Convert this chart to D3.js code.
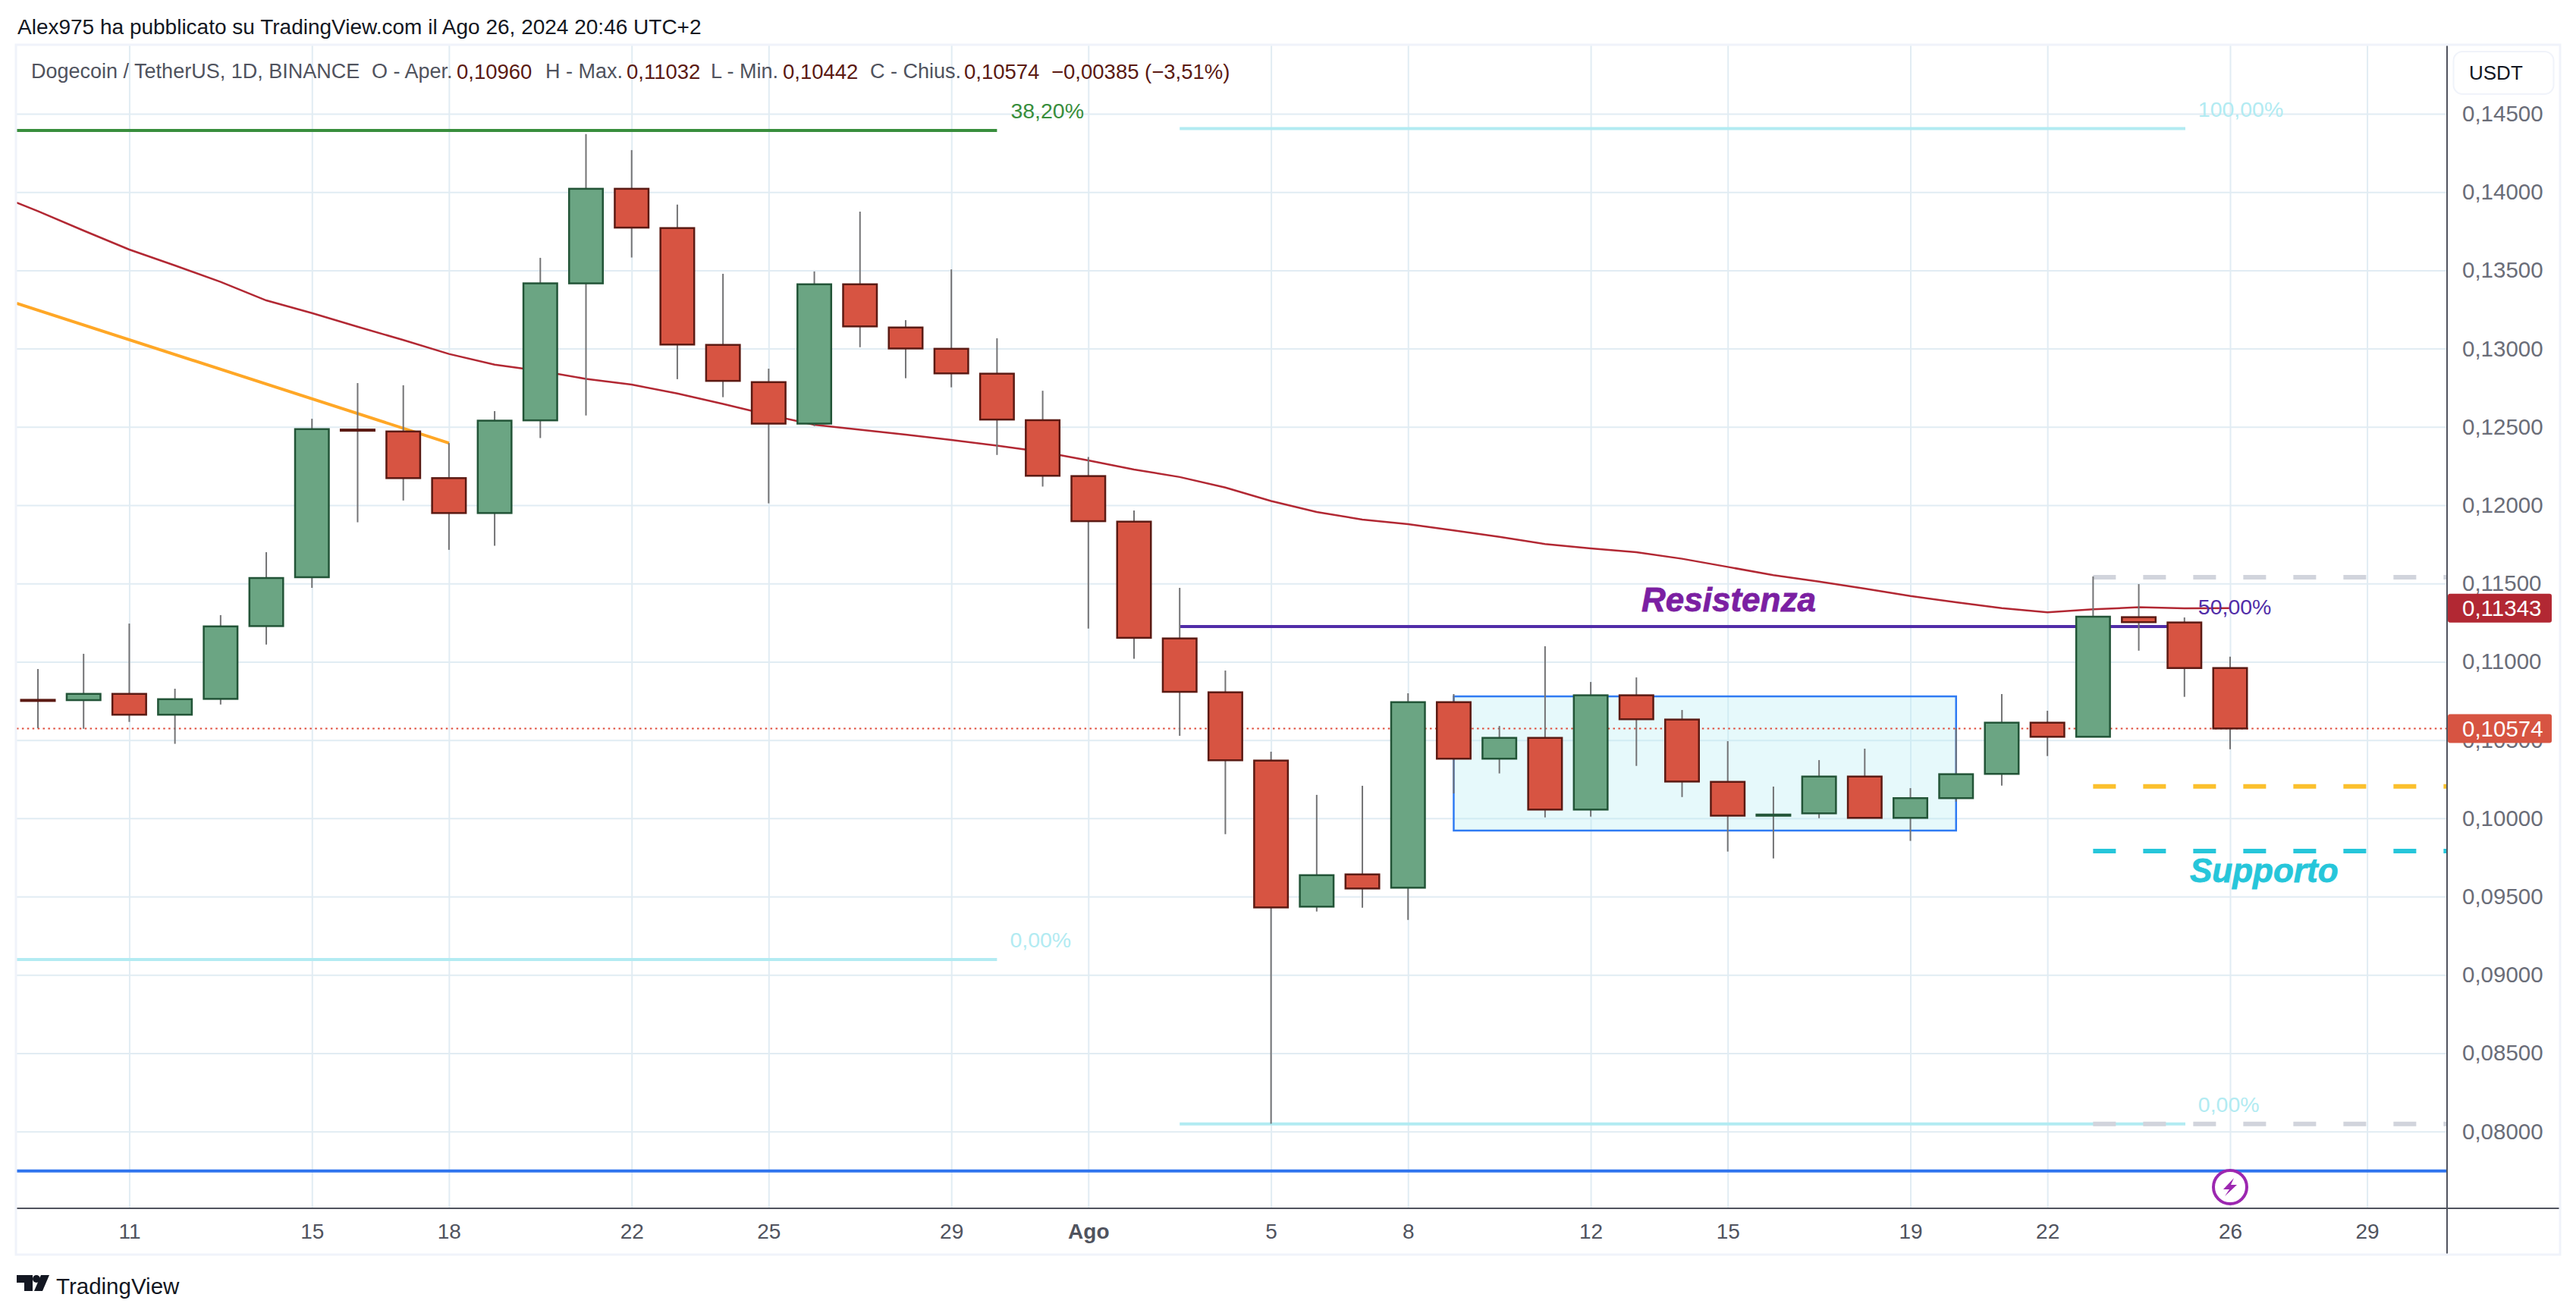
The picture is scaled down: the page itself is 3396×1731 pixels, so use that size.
<!DOCTYPE html>
<html><head><meta charset="utf-8">
<script src="https://cdn.jsdelivr.net/npm/d3@7/dist/d3.min.js"></script>
<style>html,body{margin:0;padding:0;background:#fff}svg{display:block}text{font-family:"Liberation Sans",Arial,sans-serif}</style>
</head><body><svg id="c" width="3396" height="1731"></svg>
<script>
// ---- data: daily candles, 9 Jul 2024 (index 0) to 26 Aug 2024 (index 48) ----
const opens=[.10757,.10755,.10795,.10662,.10763,.11228,.11540,.12483,.12471,.12173,.11950,.12542,.13417,.14021,.13770,.13024,.12786,.12521,.13411,.13135,.12999,.12840,.12543,.12186,.11895,.11149,.10805,.10369,.09436,.09642,.09557,.10742,.10381,.10514,.10056,.10786,.10631,.10233,.10022,.10032,.10267,.10003,.10129,.10284,.10611,.10521,.11285,.11251,.10960];
const highs=[.10954,.11051,.11244,.10828,.11298,.11700,.12552,.12780,.12766,.12397,.12601,.13580,.14370,.14268,.13920,.13478,.12872,.13493,.13875,.13182,.13506,.13066,.12731,.12308,.11966,.11472,.10944,.10426,.10150,.10208,.10799,.10794,.10590,.11099,.10871,.10900,.10692,.10493,.10203,.10372,.10445,.10193,.10576,.10794,.10687,.11545,.11496,.11283,.11032];
const lows=[.10576,.10572,.10616,.10476,.10727,.11110,.11472,.11891,.12030,.11715,.11741,.12429,.12573,.13582,.12805,.12690,.12012,.12505,.13009,.12811,.12753,.12321,.12119,.11212,.11019,.10527,.09899,.08049,.09405,.09429,.09352,.10159,.10287,.10006,.10011,.10335,.10136,.09788,.09744,.10001,.10003,.09856,.10107,.10209,.10398,.10521,.11071,.10776,.10442];
const closes=[.10755,.10795,.10662,.10761,.11226,.11535,.12486,.12481,.12173,.11950,.12540,.13417,.14021,.13773,.13026,.12794,.12521,.13411,.13142,.13001,.12842,.12547,.12188,.11898,.11153,.10808,.10371,.09431,.09637,.09552,.10742,.10381,.10514,.10056,.10786,.10633,.10235,.10017,.10024,.10267,.10003,.10129,.10282,.10611,.10521,.11288,.11253,.10960,.10574];
const maStart=.13932; // value at the left edge of the pane
const maValues=[.13878,.13754,.13633,.13531,.13426,.13308,.13227,.13140,.13055,.12966,.12898,.12858,.12807,.12770,.12714,.12647,.12577,.12514,.12482,.12451,.12417,.12380,.12341,.12286,.12228,.12180,.12113,.12027,.11957,.11908,.11879,.11839,.11798,.11752,.11724,.11700,.11658,.11606,.11553,.11512,.11467,.11420,.11380,.11343,.11316,.11335,.11348,.11341,.11343];
const priceTicks=[.145,.14,.135,.13,.125,.12,.115,.11,.105,.10,.095,.09,.085,.08];
const dateTickIdx=[2,6,9,13,16,20,23,27,30,34,37,41,44,48,51];
const dateTickLabels=["11","15","18","22","25","29","Ago","5","8","12","15","19","22","26","29"];
const trendOrange=[.13289,.12397];
const fib382=.14393, fibLeft0=.09098, fib100=.14405, fibRight0=.08048, fib50=.11225;
const dashGreyTop=.11540, dashGreyBottom=.08048, dashYellow=.10204, dashCyan=.09791;
const blueLevel=.07748, boxTop=.10779, boxBottom=.09922;
const lastClose=.10574, lastMa=.11343;
const legendParts=[
 ["Dogecoin / TetherUS, 1D, BINANCE",0],["O - Aper.",0],["0,10960",1],["H - Max.",0],["0,11032",1],
 ["L - Min.",0],["0,10442",1],["C - Chius.",0],["0,10574",1],["−0,00385 (−3,51%)",1]];

// ---- layout ----
const L={left:22,right:3375,axisX:3226,top:59,axisY:1593,bottom:1654};
const legendX=[41,490,602,719,826,937,1032,1147,1271,1386];
const x=d3.scaleLinear().domain([0,48]).range([50,2940]);
const y=d3.scaleLinear().domain([.145,.08]).range([150,1491.7]);
const fmt=d=>d.toFixed(5).replace(".",",");
const leftI=x.invert(L.left), rightI=x.invert(L.axisX);
const svg=d3.select("#c");
const GRID="#e1ecf3", AX="#50535e", CUP="#6ba583", CDN="#d75442", BUP="#225437", BDN="#5b1a13";

svg.append("defs").append("clipPath").attr("id","pane").append("rect")
 .attr("x",L.left).attr("y",L.top).attr("width",L.axisX-L.left).attr("height",L.axisY-L.top);

// grid
const gy=svg.append("g").attr("transform",`translate(${L.left},0)`)
 .call(d3.axisRight(y).tickValues(priceTicks).tickSize(L.axisX-L.left).tickFormat(""));
gy.select(".domain").remove(); gy.selectAll("line").attr("stroke",GRID).attr("stroke-width",2);
const gx=svg.append("g").attr("transform",`translate(0,${L.axisY})`)
 .call(d3.axisTop(x).tickValues(dateTickIdx).tickSize(L.axisY-L.top).tickFormat(""));
gx.select(".domain").remove(); gx.selectAll("line").attr("stroke",GRID).attr("stroke-width",2);

const pane=svg.append("g").attr("clip-path","url(#pane)");
// box
pane.append("rect").attr("x",x(31)).attr("y",y(boxTop)).attr("width",x(42)-x(31)).attr("height",y(boxBottom)-y(boxTop))
 .attr("fill","rgba(178,235,242,.32)").attr("stroke","#2f7bf3").attr("stroke-width",2.5);
// levels
function hl(p,a,b,c,w,dash){const l=pane.append("line").attr("x1",x(a)).attr("x2",x(b)).attr("y1",y(p)).attr("y2",y(p))
 .attr("stroke",c).attr("stroke-width",w); if(dash)l.attr("stroke-dasharray",dash); return l;}
hl(fib382,leftI,21,"#388e3c",4);
hl(fibLeft0,leftI,21,"#b2ebf2",4);
hl(fib100,25,47.02,"#b2ebf2",4);
hl(fibRight0,25,47.02,"#b2ebf2",4);
hl(fib50,25,47.02,"#512da8",4);
hl(blueLevel,leftI,rightI,"#2f74ee",4);
hl(dashGreyTop,45,rightI,"#d1d4dc",6,"30 36");
hl(dashGreyBottom,45,rightI,"#d1d4dc",6,"30 36");
hl(dashYellow,45,rightI,"#fbc02d",6,"30 36");
hl(dashCyan,45,rightI,"#26c6da",6,"30 36");
// orange trend
pane.append("line").attr("x1",x(leftI)).attr("y1",y(trendOrange[0])).attr("x2",x(9)).attr("y2",y(trendOrange[1]))
 .attr("stroke","#ffa726").attr("stroke-width",4);
// moving average
const maPts=[[leftI,maStart]].concat(maValues.map((v,i)=>[i,v]));
pane.append("path").attr("d",d3.line().x(d=>x(d[0])).y(d=>y(d[1]))(maPts)).attr("fill","none").attr("stroke","#b22833").attr("stroke-width",2.5);

// candles
const idx=d3.range(opens.length), bw=44.5;
const g=svg.append("g");
g.selectAll("line.w").data(idx).join("line").attr("class","w")
 .attr("x1",i=>x(i)).attr("x2",i=>x(i)).attr("y1",i=>y(highs[i])).attr("y2",i=>y(lows[i]))
 .attr("stroke","#737375").attr("stroke-width",2);
g.selectAll("rect.b").data(idx).join("rect").attr("class","b")
 .attr("x",i=>x(i)-bw/2).attr("width",bw)
 .attr("y",i=>y(Math.max(opens[i],closes[i])))
 .attr("height",i=>Math.max(1.5,Math.abs(y(opens[i])-y(closes[i]))))
 .attr("fill",i=>closes[i]>=opens[i]?CUP:CDN)
 .attr("stroke",i=>closes[i]>=opens[i]?BUP:BDN).attr("stroke-width",2.5);

// last price dotted
pane.append("line").attr("x1",L.left).attr("x2",L.axisX).attr("y1",y(lastClose)).attr("y2",y(lastClose))
 .attr("stroke","#e04b3a").attr("stroke-width",2).attr("stroke-dasharray","2.5 4.4");

// level labels
function lab(t,xx,yy,c){svg.append("text").attr("x",xx).attr("y",yy).attr("dominant-baseline","central").attr("fill",c).attr("font-size",28.5).text(t);}
lab("38,20%",x(21)+18,146,"#388e3c");
lab("0,00%",x(21)+17,y(fibLeft0)-26,"#b2ebf2");
lab("100,00%",x(47)+18,144,"#b2ebf2");
lab("0,00%",x(47)+18,y(fibRight0)-26,"#b2ebf2");
lab("50,00%",x(47)+18,800,"#512da8");
svg.append("text").attr("x",2164).attr("y",806).attr("fill","#7b1fa2").attr("stroke","#7b1fa2").attr("stroke-width",.8).attr("font-size",44).attr("font-weight",700).attr("font-style","italic").text("Resistenza");
svg.append("text").attr("x",2887).attr("y",1163).attr("fill","#26c6da").attr("stroke","#26c6da").attr("stroke-width",.8).attr("font-size",44).attr("font-weight",700).attr("font-style","italic").text("Supporto");

// lightning marker
const mk=svg.append("g").attr("transform",`translate(${x(48)},1565)`);
mk.append("circle").attr("r",22).attr("fill","#fff").attr("stroke","#9c27b0").attr("stroke-width",4);
mk.append("path").attr("d","M5,-12 L-9,3 L-1,3 L-7,12 L9,-3 L1,-3 Z").attr("fill","#9c27b0");

// axes
svg.append("line").attr("x1",L.left).attr("x2",L.right).attr("y1",L.axisY).attr("y2",L.axisY).attr("stroke",AX).attr("stroke-width",2);
svg.append("line").attr("x1",L.axisX).attr("x2",L.axisX).attr("y1",L.top).attr("y2",L.bottom).attr("stroke",AX).attr("stroke-width",2);
const ay=svg.append("g").attr("transform",`translate(${L.axisX},0)`).call(d3.axisRight(y).tickValues(priceTicks).tickSize(0).tickPadding(20).tickFormat(fmt));
ay.select(".domain").remove(); ay.selectAll("text").attr("font-size",29.5).attr("fill","#6a6d78").attr("font-family",'"Liberation Sans"');
const ax=svg.append("g").attr("transform",`translate(0,${L.axisY})`).call(d3.axisBottom(x).tickValues(dateTickIdx).tickSize(0).tickPadding(20).tickFormat((d,i)=>dateTickLabels[i]));
ax.select(".domain").remove(); ax.selectAll("text").attr("font-size",28).attr("fill",AX).attr("font-family",'"Liberation Sans"')
 .attr("font-weight",(d,i)=>dateTickLabels[i]==="Ago"?700:400);

// value tags
function tag(v,c){const yy=y(v);
 svg.append("rect").attr("x",L.axisX+1).attr("y",yy-19).attr("width",137).attr("height",38).attr("rx",3).attr("fill",c);
 svg.append("text").attr("x",3246).attr("y",yy).attr("dominant-baseline","central").attr("fill","#fff").attr("font-size",29.5).text(fmt(v));}
tag(lastMa,"#b22833"); tag(lastClose,"#d75442");

// border
svg.append("rect").attr("x",L.left-1).attr("y",L.top).attr("width",L.right-L.left+1).attr("height",L.bottom-L.top).attr("fill","none").attr("stroke","#f0f3fa").attr("stroke-width",3);

// USDT
svg.append("rect").attr("x",3234.5).attr("y",68).attr("width",132).attr("height",56).attr("rx",12).attr("fill","#fff").attr("stroke","#f0f3fa").attr("stroke-width",2);
svg.append("text").attr("x",3255).attr("y",96).attr("dominant-baseline","central").attr("fill","#131722").attr("font-size",26).text("USDT");

// header + legend
svg.append("text").attr("x",23).attr("y",35).attr("dominant-baseline","central").attr("fill","#131722").attr("font-size",28).text("Alex975 ha pubblicato su TradingView.com il Ago 26, 2024 20:46 UTC+2");
legendParts.forEach((p,i)=>svg.append("text").attr("x",legendX[i]).attr("y",94).attr("dominant-baseline","central")
 .attr("fill",p[1]?"#5b1a13":"#50535e").attr("font-size",p[1]?27.5:27).text(p[0]));

// logo
const lg=svg.append("g").attr("fill","#131722");
lg.append("path").attr("d","M22,1681 H43 V1702 H32 V1691 H22 Z");
lg.append("circle").attr("cx",48).attr("cy",1686).attr("r",5);
lg.append("path").attr("d","M54,1681 H65 L56,1702 H45 Z");
lg.append("text").attr("x",74).attr("y",1695).attr("dominant-baseline","central").attr("font-size",29.5).text("TradingView");
</script></body></html>
